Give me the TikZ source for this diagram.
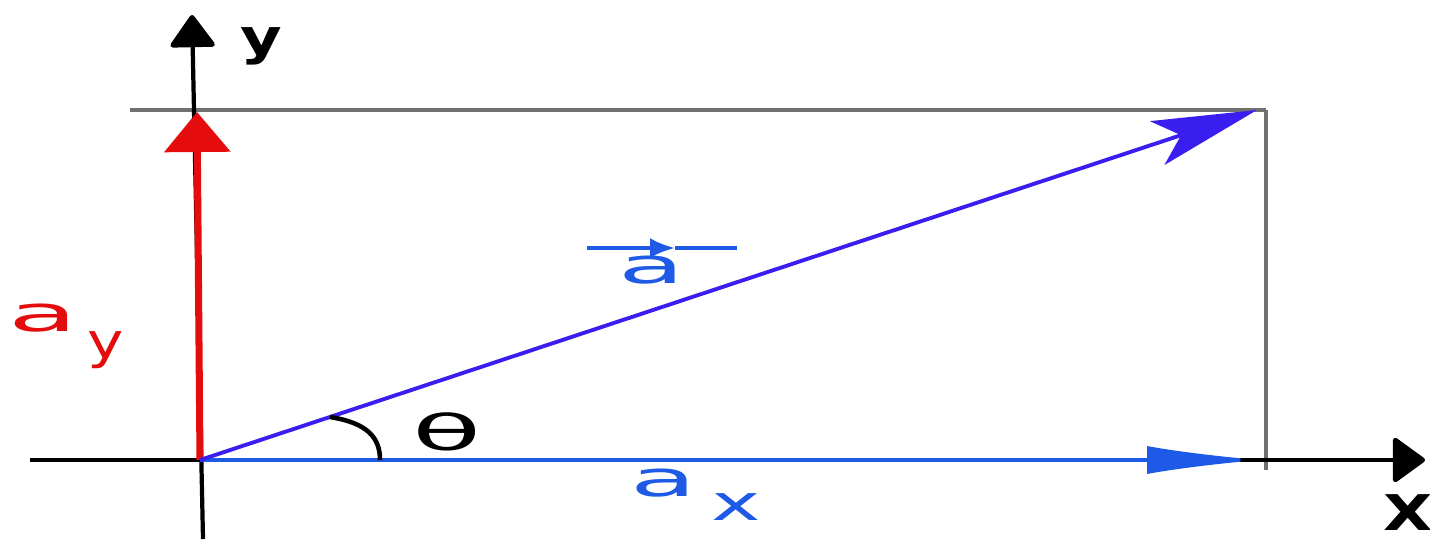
\documentclass[tikz,border=0pt]{standalone}
\usepackage{fontspec}
\setmainfont{DejaVu Sans}
\usepackage{tikz}
\usetikzlibrary{arrows.meta, positioning, calc}
\definecolor{vecblue}{RGB}{58,30,240}
\definecolor{compblue}{RGB}{30,90,230}
\definecolor{compred}{RGB}{228,12,12}
\definecolor{guidegray}{RGB}{112,112,112}
\newcommand{\stretched}[2]{\scalebox{#1}[1]{#2}}

\begin{document}
\begin{tikzpicture}[
    axisline/.style={draw=black, line width=1.2pt, -{Triangle[length=3.4mm, width=4.8mm, line width=1.4pt, round]}},
    guide/.style={draw=guidegray, line width=0.9pt},
    vecarrow/.style={draw=vecblue, line width=1.1pt, -{Stealth[length=10.5mm, width=4.6mm, inset=2.5mm]}},
    xarrow/.style={draw=compblue, line width=1pt, -{Latex[length=11.5mm, width=2.8mm]}},
    yarrow/.style={draw=compred, line width=2pt, -{Triangle[length=4mm, width=6.5mm]}},
    lbl/.style={font=\fontsize{14}{16}\selectfont, inner sep=0pt}
]
    \useasboundingbox (0,0) rectangle (14.3,5.39);

    % === Points ===
    \coordinate (O) at (2.00,0.79);
    \coordinate (ybot) at (2.03,0);
    \coordinate (ytip) at (1.92,5.24);
    \coordinate (xleft) at (0.30,0.79);
    \coordinate (xtip) at (14.25,0.79);
    \coordinate (P) at (12.57,4.29);
    \coordinate (Px) at (12.62,0.79);
    \coordinate (Py) at (1.97,4.27);
    \coordinate (topleft) at (1.30,4.29);
    \coordinate (topright) at (12.66,4.29);
    \coordinate (rightfoot) at (12.66,0.69);

    % === Guide rectangle ===
    \draw[guide] (topleft) -- (topright);
    \draw[guide] (topright) -- (rightfoot);

    % === Axes ===
    \draw[axisline] (xleft) -- (xtip);
    \draw[axisline] (ybot) -- (ytip);
    \node[lbl, font=\fontsize{14}{16}\selectfont\bfseries] (ylabel) at (2.61,4.93) {\stretched{1.3}{y}};
    \node[lbl, font=\fontsize{14}{16}\selectfont\bfseries] (xlabel) at (14.08,0.26) {\stretched{1.3}{X}};

    % === Vector and components ===
    \draw[xarrow] (O) -- (Px);
    \draw[yarrow] (O) -- (Py);
    \draw[vecarrow] (O) -- (P);

    % Angle
    \coordinate (arcA) at (3.30,1.22);
    \coordinate (arcB) at (3.80,0.79);
    \draw[line width=1.3pt] (arcA) .. controls +(0.38,-0.06) and +(0,0.22) .. (arcB);
    \node[lbl] (theta) at (4.47,1.07) {\stretched{2.3}{θ}};

    % Labels
    \node[lbl, text=compred] (aylabel) at (0.66,2.03) {\stretched{2.3}{a}\hspace{0.1cm}\raisebox{-1.0ex}{\stretched{1.25}{y}}};
    \node[lbl, text=compblue] (axlabel) at (6.96,0.44) {\stretched{2.2}{a}\hspace{0.15cm}\raisebox{-0.9ex}{\stretched{1.7}{x}}};
    \node[lbl, text=compblue] (alabel) at (6.52,2.69) {\stretched{2.2}{a}};
    \coordinate (barL) at ($(alabel)+(-0.65,0.22)$);
    \coordinate (barM) at ($(alabel)+(0.23,0.22)$);
    \coordinate (barR) at ($(alabel)+(0.85,0.22)$);
    \draw[compblue, line width=1.1pt, -{Latex[length=2.5mm, width=2mm]}] (barL) -- (barM);
    \draw[compblue, line width=1.1pt] (barM) -- (barR);
\end{tikzpicture}
\end{document}
